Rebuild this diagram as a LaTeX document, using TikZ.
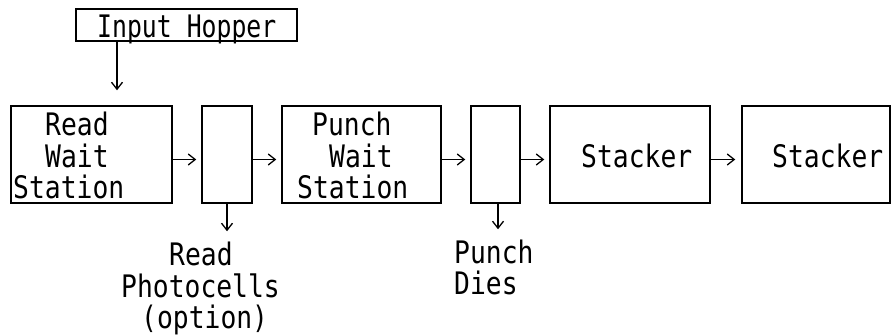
\documentclass[tikz,border=0pt]{standalone}
\usepackage{fontspec}
\newfontfamily\plotfont[FakeStretch=0.85]{DejaVu Sans Mono}
\newfontfamily\plotnarrow[FakeStretch=0.8]{DejaVu Sans Mono}
\usetikzlibrary{arrows.meta}
\begin{document}
\begin{tikzpicture}[x=1pt,y=-1pt,
  box/.style={draw, line width=1.5pt, inner sep=0pt, rectangle},
  txt/.style={anchor=base west, inner sep=0pt, font=\plotfont\fontsize{31}{34}\selectfont},
  conn/.style={line width=1.3pt, -{Straight Barb[length=7pt,width=11pt,line width=1.3pt]}}]
\useasboundingbox (0,0) rectangle (893,335);
% boxes
\node[box, minimum width=221pt, minimum height=32pt] (hop) at (186.5,25) {};
\node[box, minimum width=161pt, minimum height=97pt] (rws) at (91.5,154.5) {};
\node[box, minimum width=50pt, minimum height=97pt] (rpc) at (227,154.5) {};
\node[box, minimum width=159pt, minimum height=97pt] (pws) at (361.5,154.5) {};
\node[box, minimum width=49pt, minimum height=97pt] (pd) at (495.5,154.5) {};
\node[box, minimum width=160pt, minimum height=97pt] (st1) at (630,154.5) {};
\node[box, minimum width=148pt, minimum height=97pt] (st2) at (816,154.5) {};
% texts
\node[txt, font=\plotnarrow\fontsize{31}{34}\selectfont] (thop) at (97,37) {Input Hopper};
\node[txt] (r1) at (45,135) {Read};
\node[txt] (r2) at (45,167) {Wait};
\node[txt] (r3) at (13,198) {Station};
\node[txt] (p1) at (312,135) {Punch};
\node[txt] (p2) at (329,167) {Wait};
\node[txt] (p3) at (297,198) {Station};
\node[txt] (s1) at (581,167) {Stacker};
\node[txt] (s2) at (772,167) {Stacker};
\node[txt] (l1) at (169,265) {Read};
\node[txt] (l2) at (121,297) {Photocells};
\node[txt] (l3) at (141,328) {(option)};
\node[txt] (d1) at (454,263) {Punch};
\node[txt] (d2) at (454,294) {Dies};
% connectors
\draw[conn, shorten >=15pt] ([xshift=-69.5pt]hop.south) -- ([xshift=-69.5pt]hop.south |- rws.north);
\draw[conn, shorten >=5pt] ([yshift=-5pt]rws.east) -- ([yshift=-5pt]rpc.west);
\draw[conn, shorten >=5pt] ([yshift=-5pt]rpc.east) -- ([yshift=-5pt]pws.west);
\draw[conn, shorten >=5pt] ([yshift=-5pt]pws.east) -- ([yshift=-5pt]pd.west);
\draw[conn, shorten >=5pt] ([yshift=-5pt]pd.east) -- ([yshift=-5pt]st1.west);
\draw[conn, shorten >=6pt] ([yshift=-5pt]st1.east) -- ([yshift=-5pt]st2.west);
\draw[conn, shorten >=10pt] (rpc.south) -- (rpc.south |- l1.north);
\draw[conn, shorten >=10pt] ([xshift=2.5pt]pd.south) -- ([xshift=2.5pt]pd.south |- d1.north);
\end{tikzpicture}
\end{document}
